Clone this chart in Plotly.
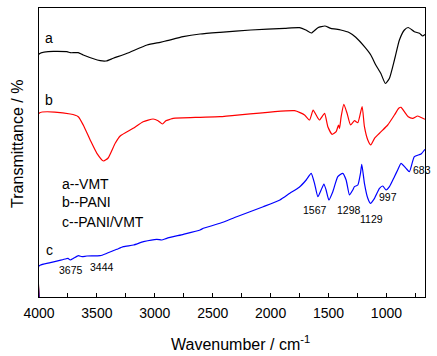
import plotly.graph_objects as go

# Curve a -- VMT
wn_a = [4000, 3759, 3730, 3661, 3618, 3472, 3420, 3359, 3239, 3067, 2954, 2894, 2756, 2609, 2437,
        2170, 1879, 1750, 1696, 1648, 1592, 1532, 1480, 1394, 1319, 1265, 1190, 1135, 1092, 1049,
        1009, 974, 931, 888, 845, 812, 759, 715, 687, 667]
t_a = [243, 245.3, 244.3, 244.3, 242, 236.3, 236, 238.7, 243.7, 252, 254.7, 256.3, 260.3, 263, 264.7,
       267, 268.7, 269.3, 267, 264, 269.3, 271, 268.7, 267, 264.3, 259.7, 250.3, 242, 232, 223.7,
       213.5, 218.7, 237, 257, 267, 269.5, 265.3, 263.7, 261, 262.5]

# Curve b -- PANI
wn_b = [4000, 3730, 3661, 3618, 3558, 3500, 3443, 3403, 3342, 3299, 3187, 3101, 3015, 2972, 2934,
        2905, 2868, 2842, 2609, 2437, 1793, 1707, 1664, 1633, 1607, 1578, 1534, 1506, 1469, 1434,
        1414, 1405, 1391, 1368, 1340, 1310, 1276, 1247, 1210, 1190, 1161, 1135, 1103, 1046, 989,
        931, 894, 874, 845, 812, 773, 730, 687, 667]
t_b = [183.7, 183, 180.3, 172, 157, 143.7, 136, 139, 153.7, 161, 168.7, 175.3, 178, 176.3, 173,
       176.3, 177.7, 178.7, 179.7, 180.3, 186.3, 182, 177, 187, 182, 177, 183.7, 170.3, 162.7, 165.3,
       172, 168.7, 180.3, 192.7, 183.7, 172, 176.3, 174.3, 190.5, 170.3, 157, 152, 158.7, 165.3, 172,
       182, 188.7, 189.7, 185.3, 180.3, 178.7, 181, 178.7, 177.7]

# Curve c -- PANI/VMT
wn_c = [4000, 3903, 3773, 3750, 3730, 3702, 3659, 3629, 3586, 3472, 3414, 3328, 3271, 3184, 3098,
        2983, 2940, 2897, 2753, 2609, 2581, 2437, 2293, 2064, 1920, 1834, 1753, 1693, 1650, 1621,
        1592, 1564, 1540, 1521, 1497, 1463, 1420, 1377, 1348, 1319, 1291, 1276, 1247, 1224, 1213,
        1190, 1161, 1138, 1103, 1060, 1032, 1003, 974, 931, 903, 874, 831, 802, 759, 701, 667]
t_c = [31, 34.3, 38, 38.7, 37, 38.7, 41.3, 40.3, 41, 41.3, 43.7, 47.7, 50.3, 52, 55.3,
       57.7, 57, 58.7, 62.7, 67, 68.7, 73.7, 80.3, 90.3, 97, 103.7, 109.7, 117, 123.7, 113.7,
       100.3, 107, 113, 107, 97, 105.3, 120.3, 123.7, 117, 102, 107, 110.3, 112, 123.7, 132.7,
       113.7, 98.7, 93.7, 98.7, 108.7, 111, 107, 110.3, 120.3, 127, 133.7, 128.7, 125.3, 140.3, 143, 147.7]

series_names = ["a--VMT", "b--PANI", "c--PANI/VMT"]
series_letters = ["a", "b", "c"]
peak_labels = ["3675", "3444", "1567", "1298", "1129", "997", "683"]
x_ticks = [4000, 3500, 3000, 2500, 2000, 1500, 1000]

Y_MIN, Y_MAX = 0, 289
X_LEFT, X_RIGHT = 4000, 667

FONT = "Liberation Sans, Arial, sans-serif"
colors = ["#000000", "#ff0000", "#0000ff"]

fig = go.Figure()
for wn, t, col in [(wn_a, t_a, colors[0]), (wn_b, t_b, colors[1]), (wn_c, t_c, colors[2])]:
    fig.add_trace(go.Scatter(x=[wn[0]] + wn, y=[Y_MIN] + t, mode="lines",
                             line=dict(color=col, width=1.2, shape="spline", smoothing=0.5),
                             showlegend=False, hoverinfo="skip"))

anns = []
for letter, yv in zip(series_letters, [259.3, 197, 47]):
    anns.append(dict(x=3911, y=yv, text=letter, showarrow=False, xanchor="center", yanchor="middle",
                     font=dict(size=14, color="black", family=FONT)))
for name, yv in zip(series_names, [113, 94.7, 75.3]):
    anns.append(dict(x=3822, y=yv, text=name, showarrow=False, xanchor="left", yanchor="middle",
                     font=dict(size=14, color="black", family=FONT)))
peak_pos = [(3722, 27), (3458, 29.7), (1621, 87), (1319, 87), (1133, 77.7), (983, 99.7), (692, 127)]
for lab, (xv, yv) in zip(peak_labels, peak_pos):
    anns.append(dict(x=xv, y=yv, text=lab, showarrow=False, xanchor="center", yanchor="middle",
                     font=dict(size=10.5, color="black", family=FONT)))
anns.append(dict(xref="paper", yref="paper", x=-0.056, y=0.531, text="Transmittance / %", textangle=-90,
                 showarrow=False, xanchor="center", yanchor="middle",
                 font=dict(size=16, color="black", family=FONT)))
anns.append(dict(xref="paper", yref="paper", x=0.5225, y=-0.159, text="Wavenumber / cm<sup>-1</sup>",
                 showarrow=False, xanchor="center", yanchor="middle",
                 font=dict(size=16, color="black", family=FONT)))

fig.update_layout(
    width=437, height=356,
    margin=dict(l=39, r=12, t=8, b=59),
    paper_bgcolor="white", plot_bgcolor="white",
    annotations=anns,
    font=dict(family=FONT, color="black"),
    xaxis=dict(range=[X_LEFT, X_RIGHT], tickvals=x_ticks, ticks="inside", ticklen=4, tickwidth=1,
               tickcolor="black", showline=True, linecolor="black", linewidth=1, mirror=True,
               showgrid=False, zeroline=False, tickfont=dict(size=14, family=FONT, color="black"),
               ticklabelstandoff=3,
               minor=dict(dtick=250, ticks="inside", ticklen=4, tickcolor="black", showgrid=False)),
    yaxis=dict(range=[Y_MIN, Y_MAX], showticklabels=False, ticks="", showline=True, linecolor="black",
               linewidth=1, mirror=True, showgrid=False, zeroline=False),
)
fig.write_html("out.html", config={"displayModeBar": False},
               post_script="document.body.style.margin='0';document.body.style.padding='0';")
